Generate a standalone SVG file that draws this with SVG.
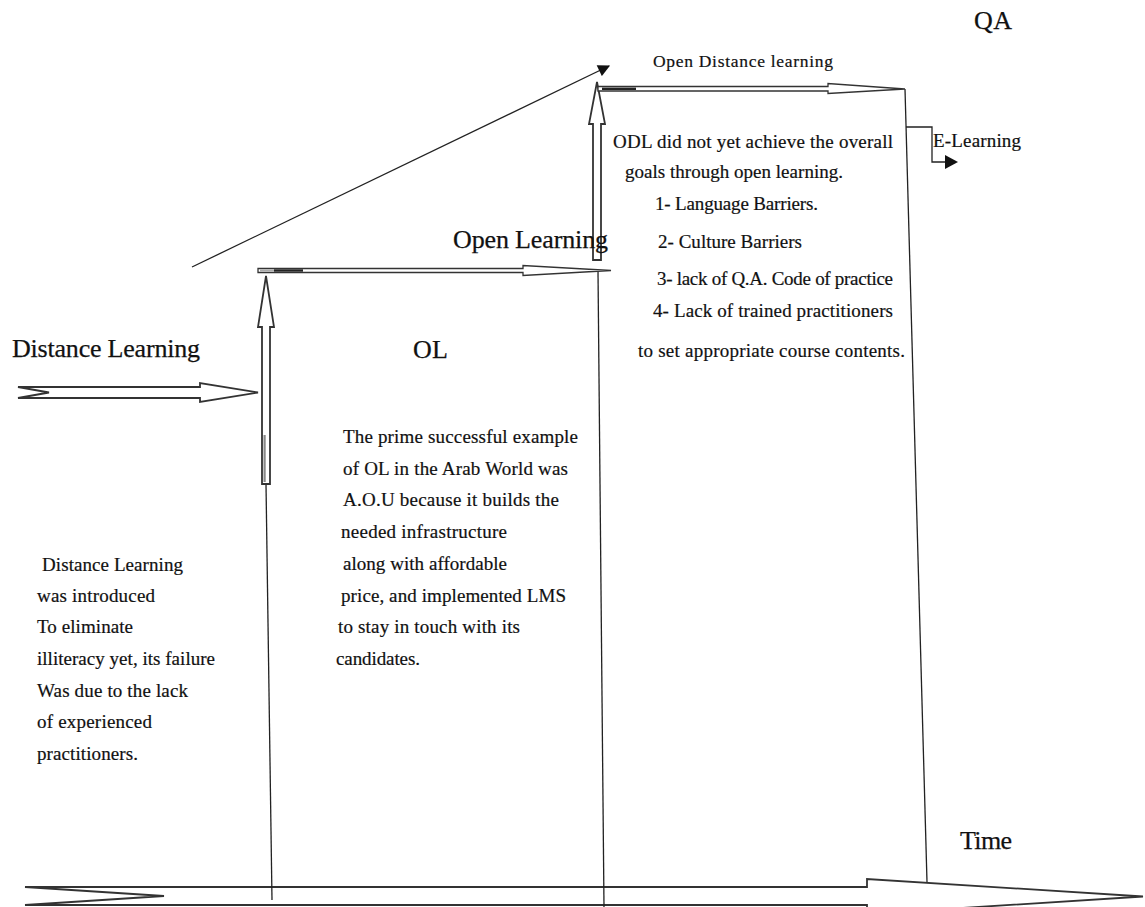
<svg xmlns="http://www.w3.org/2000/svg" width="1145" height="907" viewBox="0 0 1145 907">
<style>
.big{font-family:"Liberation Serif","Times New Roman",serif;font-size:26px;fill:#111;stroke:#111;stroke-width:0.25}
.sm{font-family:"Liberation Serif","Times New Roman",serif;font-size:19px;fill:#111;stroke:#111;stroke-width:0.2}
.blk{fill:#fff;stroke:#333;stroke-width:1.8;stroke-linejoin:miter}
.ln{fill:none;stroke:#222;stroke-width:1.3}
</style>
<defs>
<marker id="tri" viewBox="0 0 10 10" refX="9" refY="5" markerWidth="14" markerHeight="12" markerUnits="userSpaceOnUse" orient="auto">
<path d="M0,0 L10,5 L0,10 z" fill="#111"/>
</marker>
</defs>
<rect width="1145" height="907" fill="#fff"/>
<g id="connectors">
<polygon class="blk" points="25,887 867,887 867,879 1143,896.5 867,914 867,905 25,905 164,896"/>
<line class="ln" x1="266" y1="484" x2="272" y2="900"/>
<line class="ln" x1="598" y1="271" x2="604" y2="907"/>
<line class="ln" x1="905" y1="89" x2="927" y2="882"/>
<polygon class="blk" points="18,387 200,387 200,383 258,392.5 200,402 200,398 18,398 49,392.5"/>
<polygon class="blk" points="262,484 262,327 258,327 266,276 274,327 270,327 270,484"/>
<line x1="264.6" y1="435" x2="264.6" y2="482" stroke="#888" stroke-width="2.2"/>
<polygon class="blk" points="258,268.5 523,268.5 523,265.5 611,270.5 523,275.5 523,272.5 258,272.5" style="stroke-width:1.3"/>
<rect x="260" y="269.5" width="14" height="2" fill="#aaa"/>
<rect x="274" y="269.3" width="29" height="2.4" fill="#222"/>
<line class="ln" x1="192" y1="267" x2="609" y2="66" marker-end="url(#tri)"/>
<polygon class="blk" points="593,260 593,124 589,124 597,82 605,124 601,124 601,260"/>
<polygon class="blk" points="598,86.5 828,86.5 828,83.5 905,89 828,93.5 828,91 598,91" style="stroke-width:1.3"/>
<rect x="602" y="87.6" width="34" height="2.4" fill="#222"/>
<polyline class="ln" points="906,127 932,127 932,162 946,162"/>
<polygon points="945,155 958,162 945,169" fill="#111"/>
</g>
<g id="qa"><text class="big" x="974" y="29" textLength="38">QA</text></g>
<g id="time"><text class="big" x="960" y="849" textLength="52">Time</text></g>
<g id="distance-learning-label"><text class="big" x="12" y="357" textLength="188">Distance Learning</text></g>
<g id="ol-label"><text class="big" x="413" y="358" textLength="35">OL</text></g>
<g id="open-learning-label"><text class="big" x="453" y="248" textLength="155">Open Learning</text></g>
<g id="odl-label"><text class="sm" x="653" y="67" textLength="180" style="font-size:17.5px">Open Distance learning</text></g>
<g id="e-learning"><text class="sm" x="933" y="147" textLength="88">E-Learning</text></g>
<g id="odl-text">
<text class="sm" x="613" y="148" textLength="280">ODL did not yet achieve the overall</text>
<text class="sm" x="625" y="178" textLength="218">goals through open learning.</text>
<text class="sm" x="655" y="210" textLength="163">1- Language Barriers.</text>
<text class="sm" x="658" y="248" textLength="144">2- Culture Barriers</text>
<text class="sm" x="657" y="285" textLength="236">3- lack of Q.A. Code of practice</text>
<text class="sm" x="653" y="317" textLength="240">4- Lack of trained practitioners</text>
<text class="sm" x="638" y="357" textLength="267">to set appropriate course contents.</text>
</g>
<g id="ol-text">
<text class="sm" x="343" y="443" textLength="235">The prime successful example</text>
<text class="sm" x="343" y="475" textLength="225">of OL in the Arab World was</text>
<text class="sm" x="343" y="506" textLength="216">A.O.U because it builds the</text>
<text class="sm" x="341" y="538" textLength="166">needed infrastructure</text>
<text class="sm" x="343" y="570" textLength="164">along with affordable</text>
<text class="sm" x="341" y="602" textLength="225">price, and implemented LMS</text>
<text class="sm" x="338" y="633" textLength="182">to stay in touch with its</text>
<text class="sm" x="336" y="665" textLength="84">candidates.</text>
</g>
<g id="dl-text">
<text class="sm" x="42" y="571" textLength="141">Distance Learning</text>
<text class="sm" x="37" y="602" textLength="118">was introduced</text>
<text class="sm" x="37" y="633" textLength="96">To eliminate</text>
<text class="sm" x="37" y="665" textLength="178">illiteracy yet, its failure</text>
<text class="sm" x="37" y="697" textLength="151">Was due to the lack</text>
<text class="sm" x="37" y="728" textLength="115">of experienced</text>
<text class="sm" x="37" y="760" textLength="101">practitioners.</text>
</g>
</svg>
